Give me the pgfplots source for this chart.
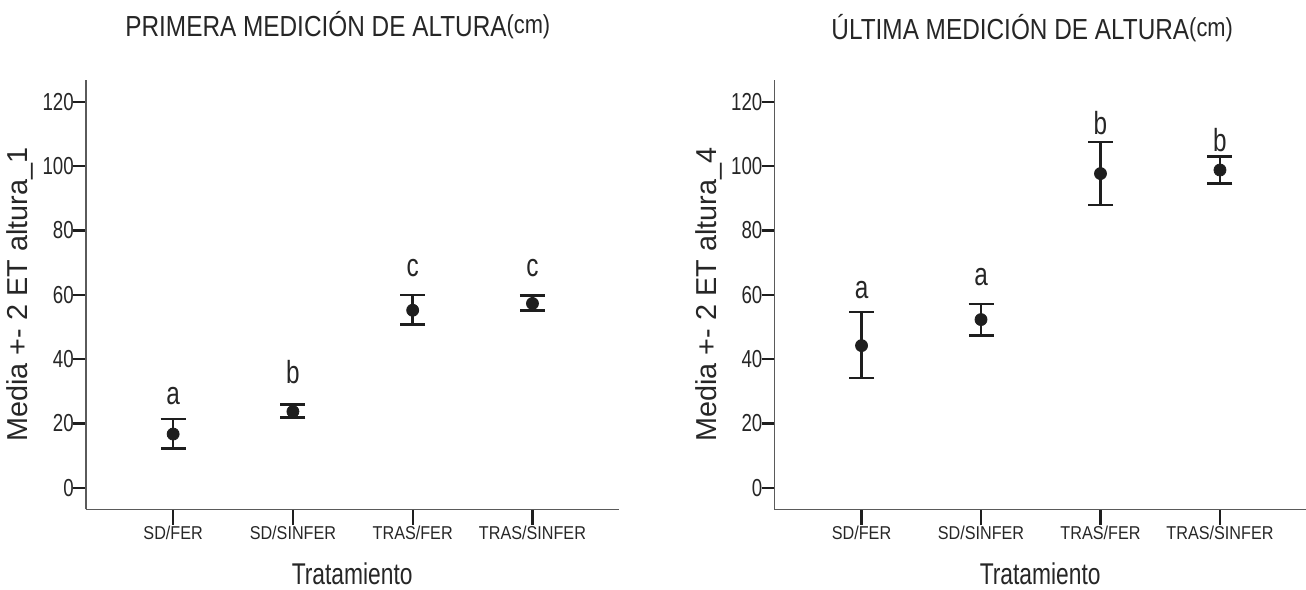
\documentclass[border=0pt]{standalone}
\usepackage{fontspec}
\setmainfont{Liberation Sans}
\newfontfamily\narrowfont[FakeStretch=0.76]{Liberation Sans}
\newfontfamily\catfont[FakeStretch=0.87]{Liberation Sans}
\newfontfamily\titlefont[FakeStretch=0.84]{Liberation Sans}
\usepackage{pgfplots}
\pgfplotsset{compat=1.18}
\usepackage{pgfplotstable}

\definecolor{ink}{HTML}{1E1E1E}
\definecolor{axisgray}{HTML}{5A5A5A}
\definecolor{txt}{HTML}{262626}

% Means with the upper (ep) and lower (em) reach of the +/- 2 SE bars
\pgfplotstableread{
x y    ep  em
0 16.7 4.7 4.5
1 23.7 2.1 1.8
2 55.2 4.7 4.4
3 57.3 2.5 2.2
}\primera

\pgfplotstableread{
x y    ep   em
0 44.2 10.5 10.1
1 52.3 4.8  4.9
2 97.7 9.8  9.8
3 98.8 4.2  4.2
}\ultima

\tikzset{
  letra/.style={font=\narrowfont\fontsize{16}{18}\selectfont, text=txt, inner sep=0pt, anchor=center},
  titulo/.style={font=\titlefont\fontsize{14.5}{16}\selectfont, text=txt, anchor=center},
}

\pgfplotsset{
  medicion/.style={
    scale only axis, width=266.5pt, height=214.65pt,
    xmin=-0.73, xmax=3.72, ymin=-6.7, ymax=126.8,
    axis x line*=bottom, axis y line*=left,
    axis line style={axisgray, line width=0.8pt, -},
    xtick={0,1,2,3},
    xticklabels={SD/FER,SD/SINFER,TRAS/FER,TRAS/SINFER},
    ytick={0,20,...,120},
    tick align=outside, minor tick num=0,
    x tick style={ink, line width=1.1pt, /pgfplots/major tick length=7.8pt},
    y tick style={ink, line width=1.1pt, /pgfplots/major tick length=6.3pt},
    /pgf/number format/assume math mode=true,
    x tick label style={font=\catfont\fontsize{9.3}{10}\selectfont, text=txt,
      inner sep=0pt, yshift=-3.85pt},
    y tick label style={font=\narrowfont\fontsize{12.3}{13}\selectfont, text=txt,
      inner sep=0pt, xshift=-1.5pt},
    xlabel={Tratamiento},
    xlabel style={font=\narrowfont\fontsize{15}{17}\selectfont, text=txt,
      inner sep=0pt, at={(axis description cs:0.5,-0.150)}, anchor=center},
    ylabel style={font=\fontsize{14.4}{16}\selectfont, text=txt,
      at={(axis description cs:-0.123,0.5)}, anchor=center},
    clip=false,
  },
  medias/.style={
    only marks, mark=*, mark size=3pt, color=ink,
    mark options={fill=ink, draw=ink},
    error bars/.cd, y dir=both, y explicit,
    error bar style={line width=1.35pt, ink},
    error mark options={rotate=90, mark size=6.25pt, line width=1.35pt, ink},
  },
}

\begin{document}
\begin{tikzpicture}
\path[use as bounding box] (0,0) rectangle (653pt,294.5pt);

\begin{axis}[medicion, at={(42.85pt,39.85pt)}, anchor=south west,
  ylabel={Media +- 2 ET altura\_1}]
  \addplot[medias] table[x=x, y=y, y error plus=ep, y error minus=em]{\primera};
  \node[letra] at (axis cs:0,28.4) {a};
  \node[letra] at (axis cs:1,36.0) {b};
  \node[letra] at (axis cs:2,68.4) {c};
  \node[letra] at (axis cs:3,68.4) {c};
  \node[titulo] at (axis description cs:0.473,1.128)
    {PRIMERA MEDICIÓN DE ALTURA\raisebox{1.5pt}{\fontsize{13}{14}\selectfont(cm)}};
\end{axis}

\begin{axis}[medicion, at={(387.15pt,39.85pt)}, anchor=south west,
  width=265.85pt, ylabel={Media +- 2 ET altura\_4}]
  \addplot[medias] table[x=x, y=y, y error plus=ep, y error minus=em]{\ultima};
  \node[letra] at (axis cs:0,61.4) {a};
  \node[letra] at (axis cs:1,65.5) {a};
  \node[letra] at (axis cs:2,113.5) {b};
  \node[letra] at (axis cs:3,108.0) {b};
  \node[titulo] at (axis description cs:0.485,1.121)
    {ÚLTIMA MEDICIÓN DE ALTURA\raisebox{1.5pt}{\fontsize{13}{14}\selectfont(cm)}};
\end{axis}
\end{tikzpicture}
\end{document}
